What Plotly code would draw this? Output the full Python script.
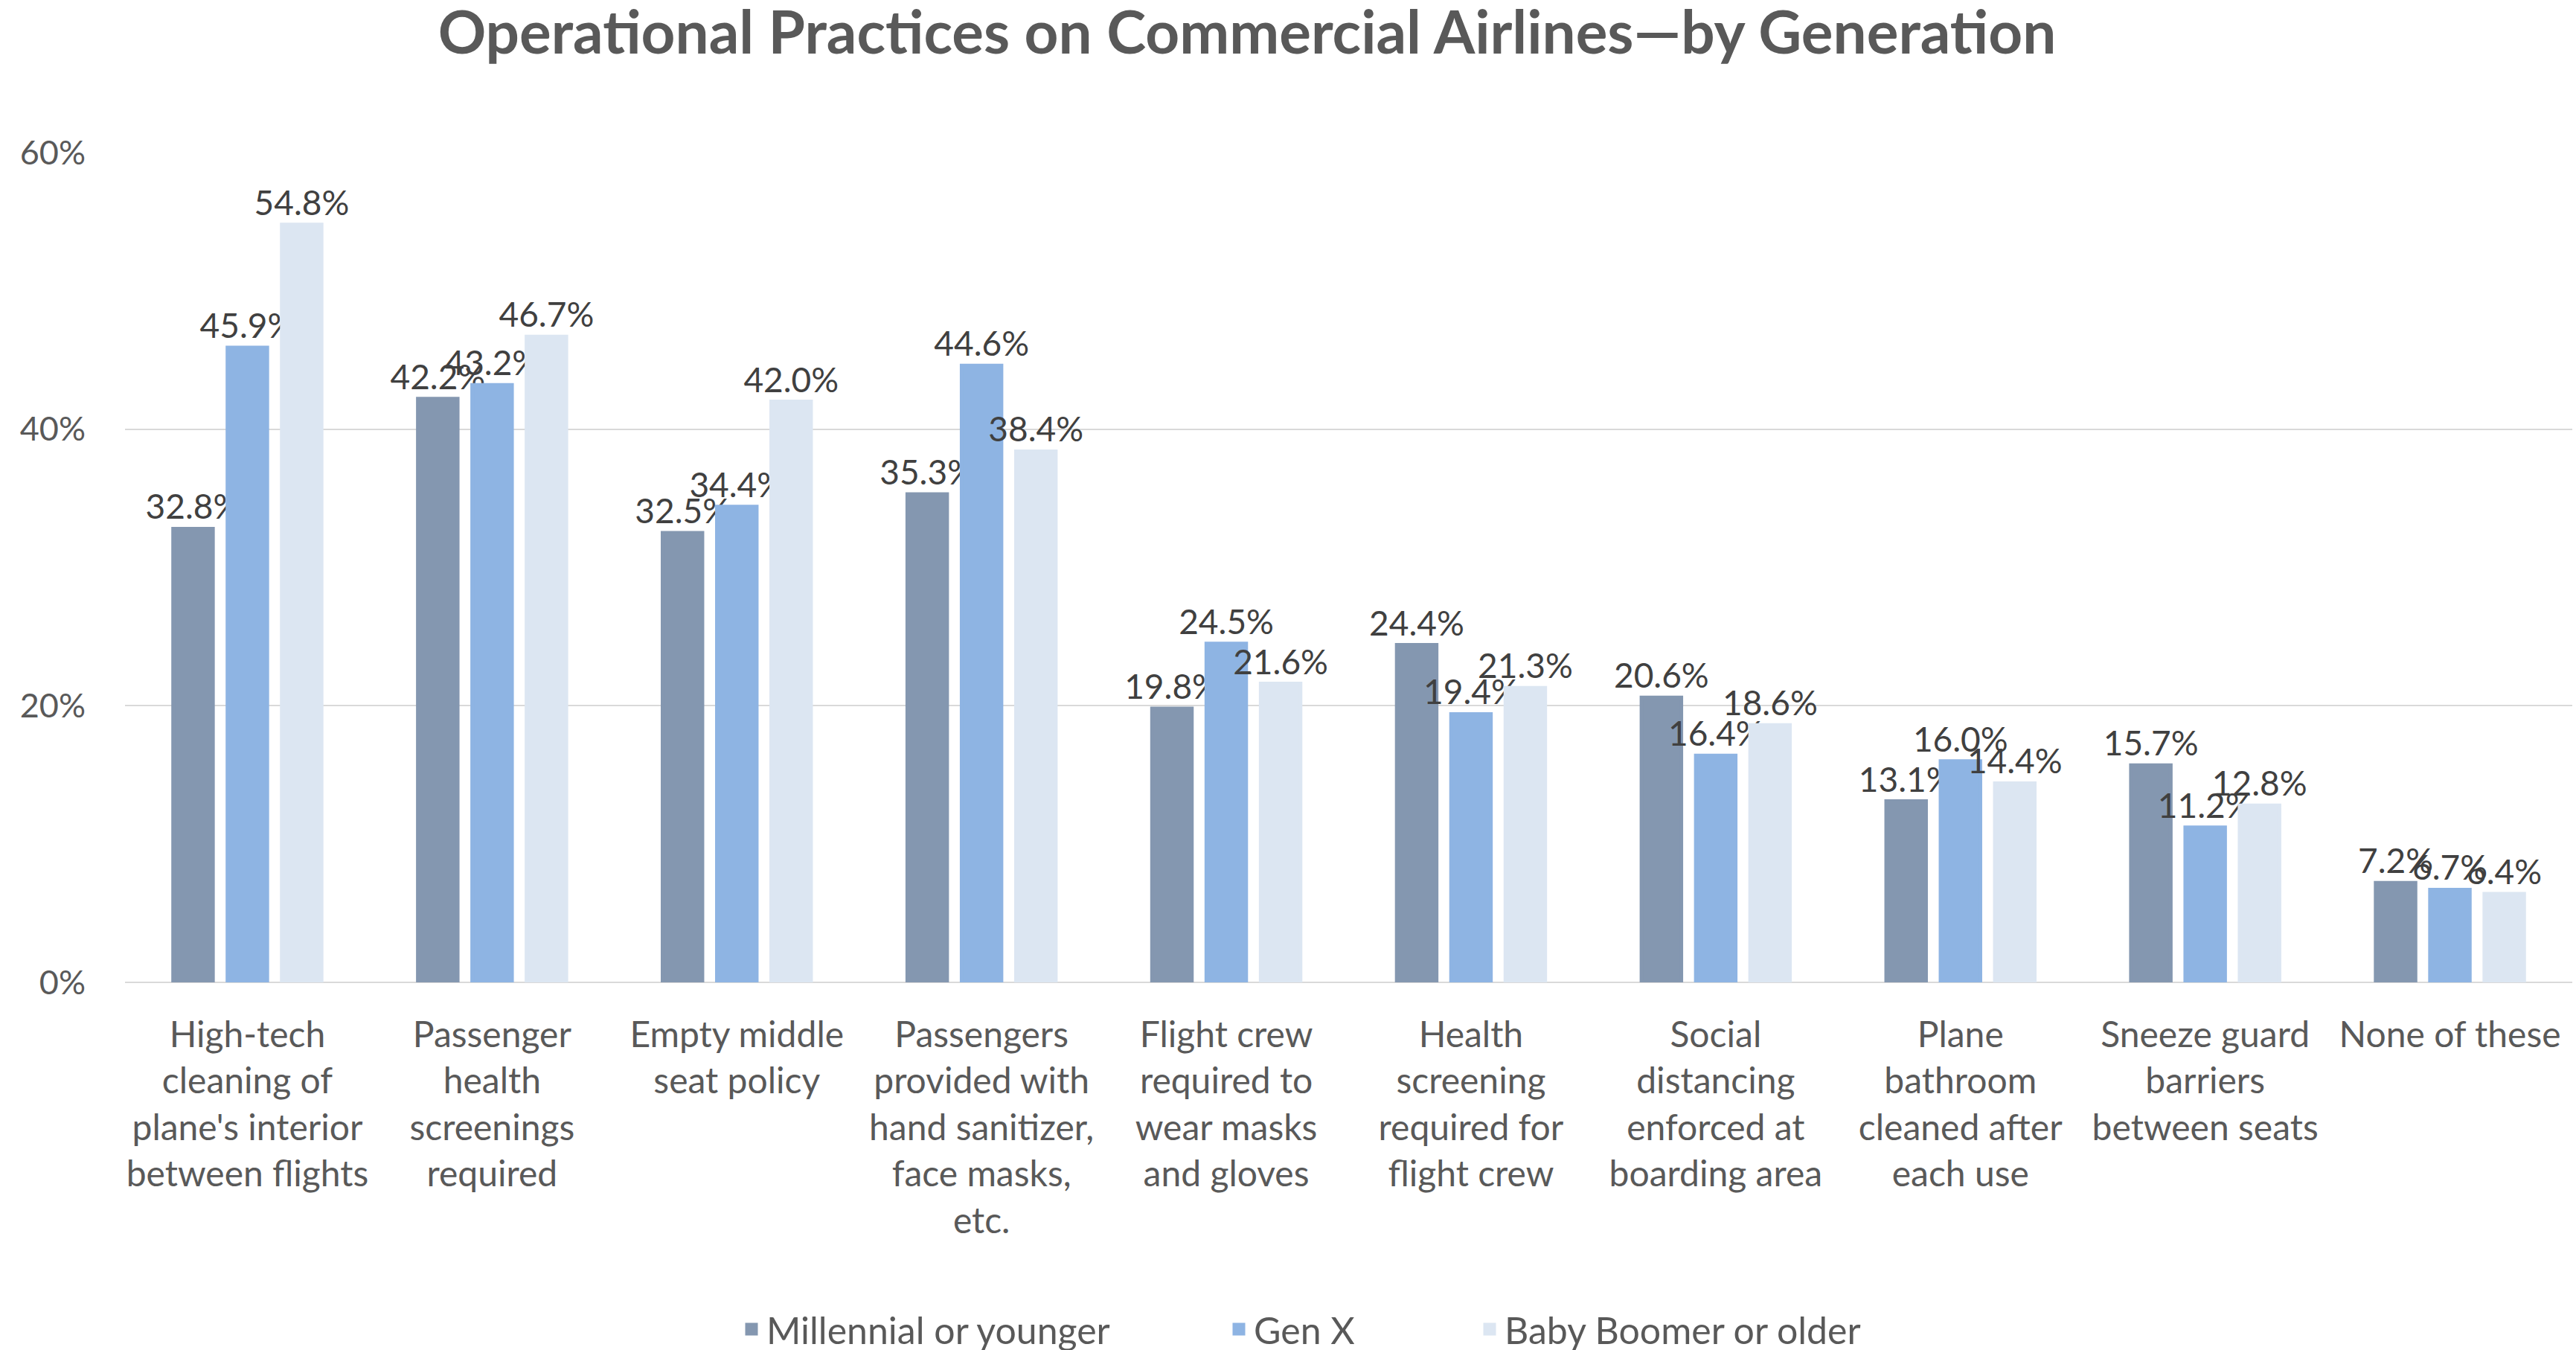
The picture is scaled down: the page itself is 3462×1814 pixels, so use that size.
import plotly.graph_objects as go

categories = [
    "High-tech<br>cleaning of<br>plane's interior<br>between flights",
    "Passenger<br>health<br>screenings<br>required",
    "Empty middle<br>seat policy",
    "Passengers<br>provided with<br>hand sanitizer,<br>face masks,<br>etc.",
    "Flight crew<br>required to<br>wear masks<br>and gloves",
    "Health<br>screening<br>required for<br>flight crew",
    "Social<br>distancing<br>enforced at<br>boarding area",
    "Plane<br>bathroom<br>cleaned after<br>each use",
    "Sneeze guard<br>barriers<br>between seats",
    "None of these",
]

millennial = [32.8, 42.2, 32.5, 35.3, 19.8, 24.4, 20.6, 13.1, 15.7, 7.2]
gen_x = [45.9, 43.2, 34.4, 44.6, 24.5, 19.4, 16.4, 16.0, 11.2, 6.7]
boomer = [54.8, 46.7, 42.0, 38.4, 21.6, 21.3, 18.6, 14.4, 12.8, 6.4]

series = [
    ("Millennial or younger", millennial, "#8497B0", "legend"),
    ("Gen X", gen_x, "#8EB4E3", "legend2"),
    ("Baby Boomer or older", boomer, "#DCE6F2", "legend3"),
]

FONT = "Lato"
W, H = 3462, 1814
PLOT_L, PLOT_R = 168, 5
PLOT_W = W - PLOT_L - PLOT_R

fig = go.Figure()
for name, vals, color, leg in series:
    fig.add_trace(go.Bar(
        x=categories,
        y=vals,
        name=name,
        legend=leg,
        # same-colour outline also enlarges the legend swatch
        marker=dict(color=color, line=dict(width=5, color=color)),
        text=[f"{v:.1f}%" for v in vals],
        textposition="outside",
        constraintext="none",
        cliponaxis=False,
        textfont=dict(family=FONT, size=46, color="#404040"),
    ))


def legend_box(left_px):
    # one single-entry legend per series, laid out along the bottom
    return dict(
        orientation="h",
        x=(left_px - PLOT_L) / PLOT_W,
        xanchor="left",
        yref="container",
        y=1 - 1786 / H,
        yanchor="middle",
        font=dict(family=FONT, size=50, color="#595959"),
        itemwidth=30,
        bgcolor="rgba(0,0,0,0)",
    )


fig.update_layout(
    width=W,
    height=H,
    paper_bgcolor="white",
    plot_bgcolor="white",
    barmode="group",
    bargap=0.334,
    bargroupgap=0.268,
    margin=dict(l=PLOT_L, r=PLOT_R, t=205, b=494, pad=0, autoexpand=False),
    font=dict(family=FONT, color="#595959"),
    title=dict(
        text="<b>Operational Practices on Commercial Airlines—by Generation</b>",
        font=dict(family=FONT, size=80, color="#595959"),
        x=1676 / W,
        xref="container",
        xanchor="center",
        y=1 - 44 / H,
        yref="container",
        yanchor="middle",
    ),
    legend=legend_box(990),
    legend2=legend_box(1645),
    legend3=legend_box(1982),
    showlegend=True,
)

fig.update_yaxes(
    range=[0, 60],
    dtick=20,
    ticksuffix="%",
    showgrid=True,
    gridcolor="#D9D9D9",
    gridwidth=2,
    zeroline=True,
    zerolinecolor="#D9D9D9",
    zerolinewidth=2,
    showline=False,
    ticks="",
    automargin=False,
    tickfont=dict(family=FONT, size=45, color="#595959"),
    ticklabelstandoff=52,
)

fig.update_xaxes(
    showgrid=False,
    showline=False,
    ticks="",
    tickangle=0,
    automargin=False,
    tickfont=dict(family=FONT, size=48, color="#595959"),
    ticklabelstandoff=38,
)

fig.write_html("out.html")
